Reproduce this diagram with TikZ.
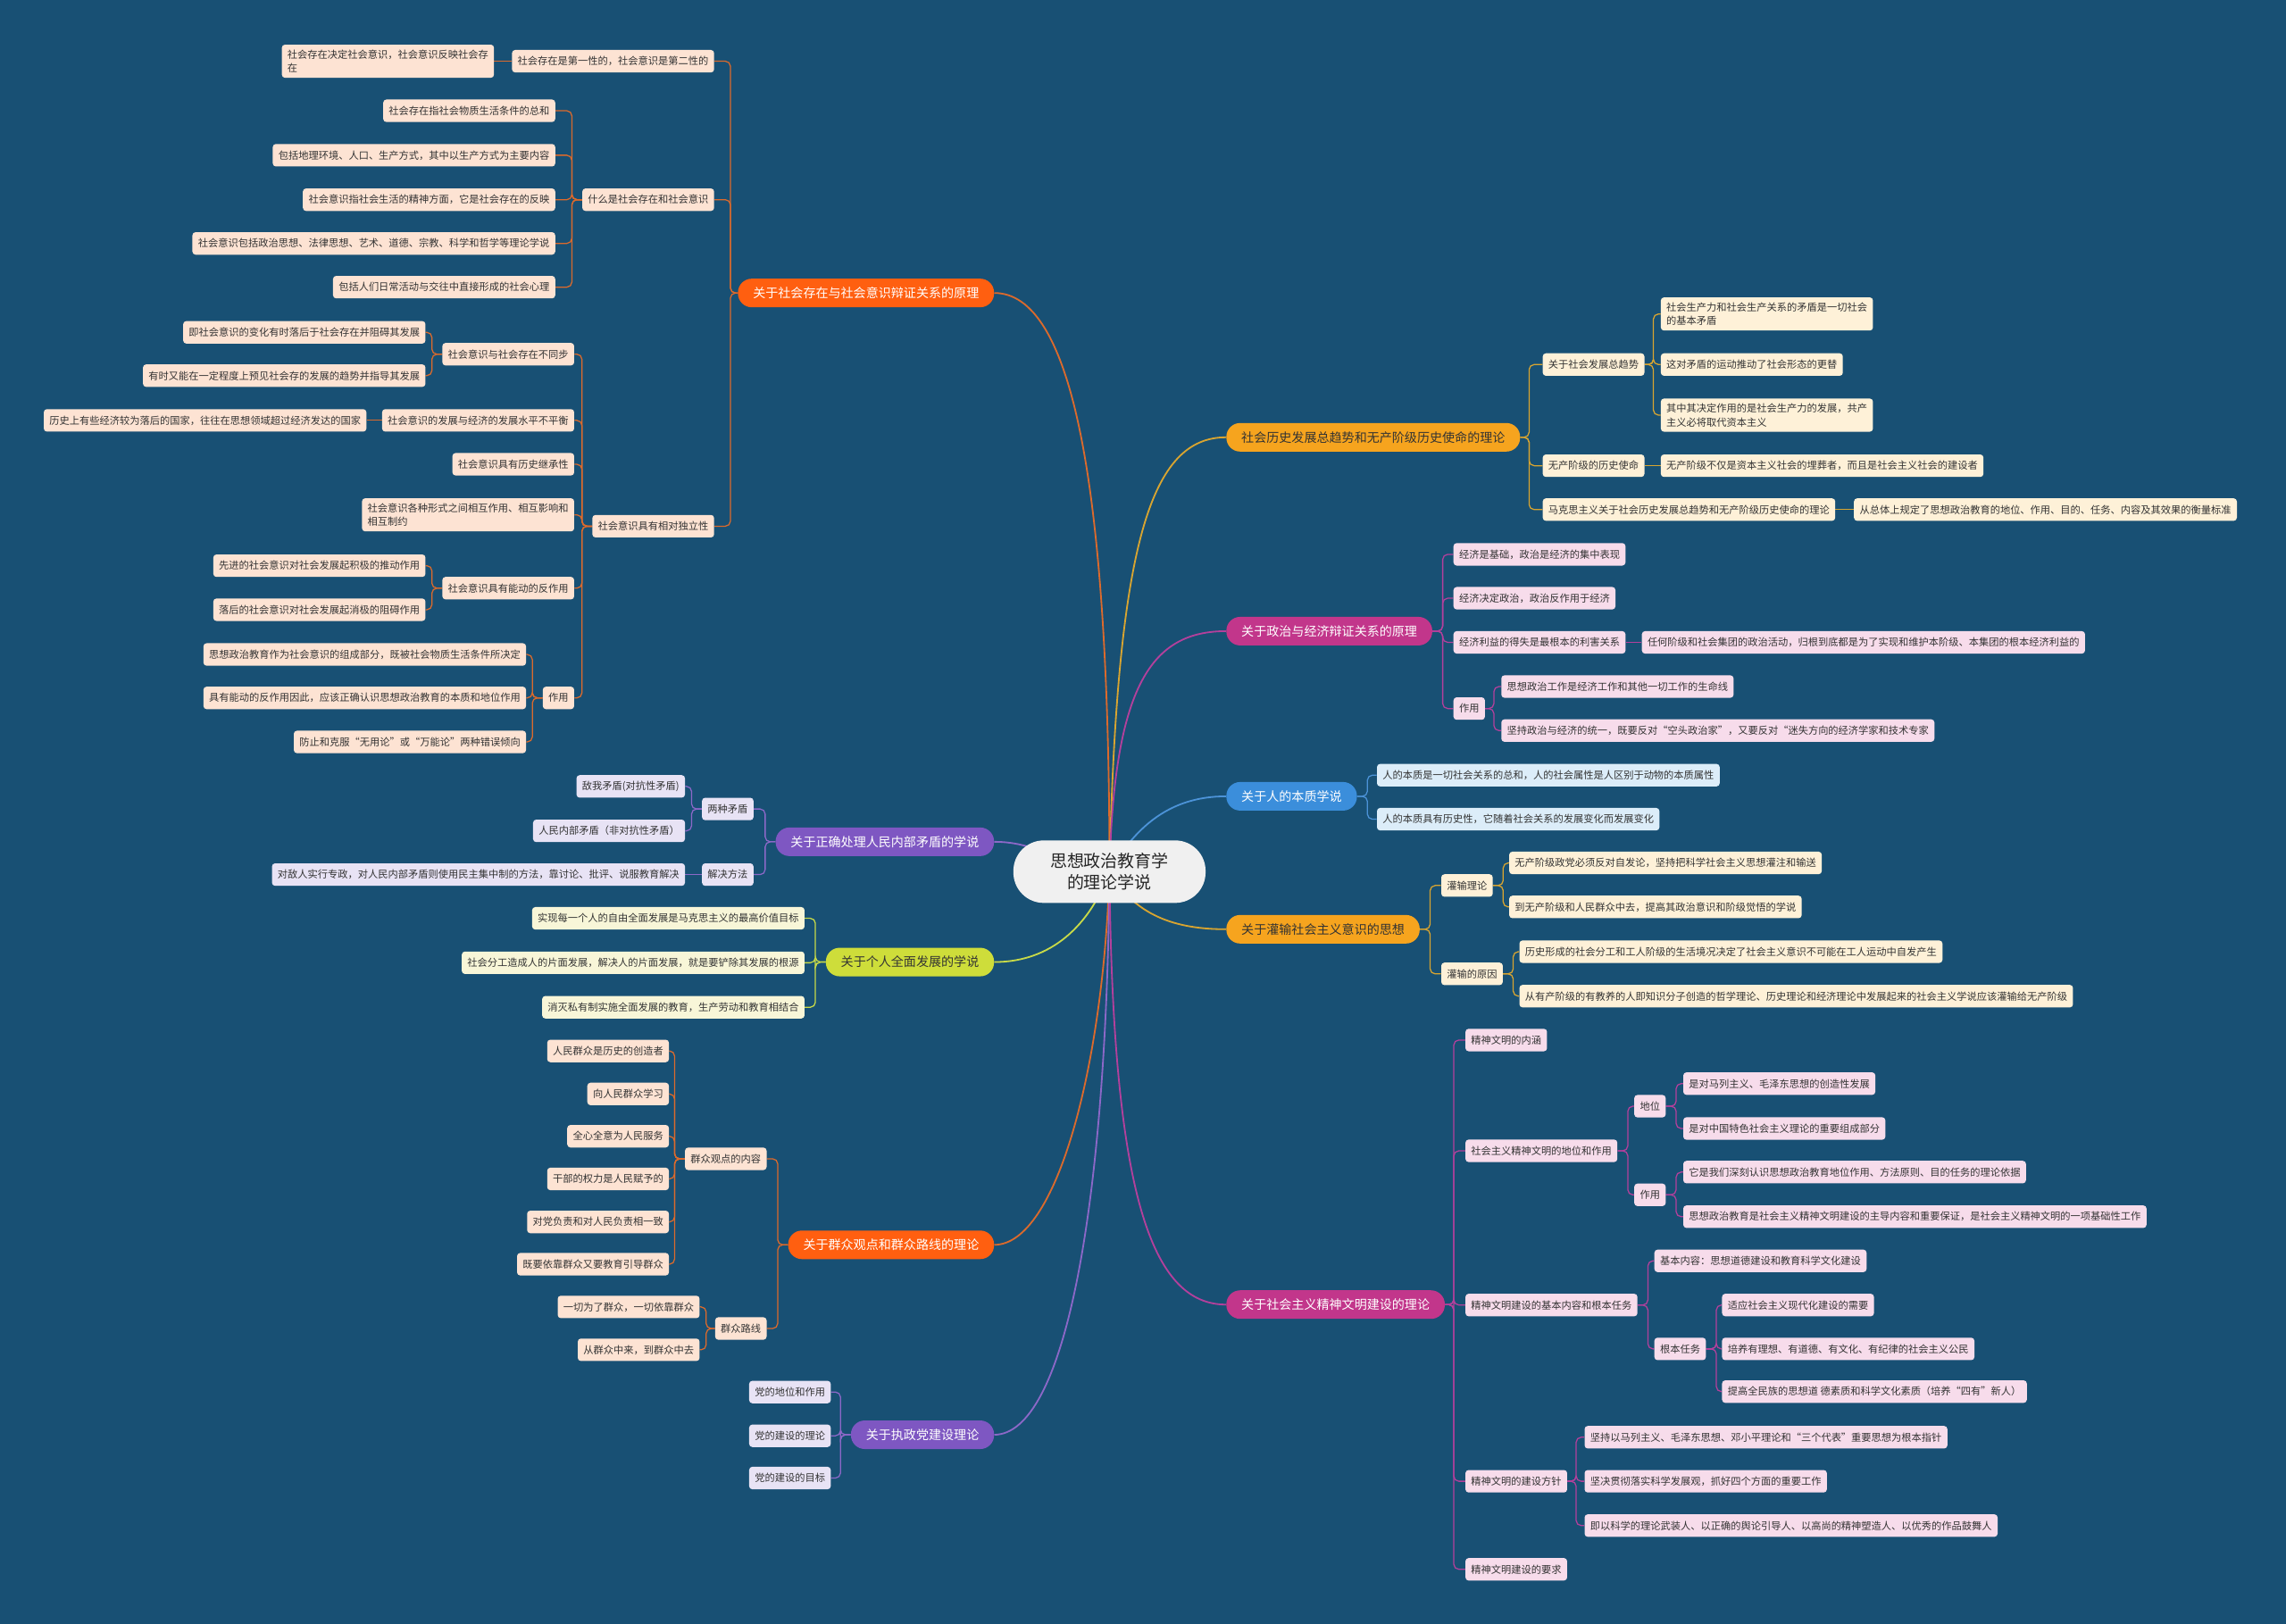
\documentclass[tikz,border=0pt]{standalone}
\usepackage{fontspec}
\setmainfont{Noto Sans CJK SC}

\definecolor{bgblue}{HTML}{185074}
\definecolor{hubfill}{HTML}{F0F0F0}
\definecolor{orgfill}{HTML}{FF5F10}
\definecolor{orgsoft}{HTML}{FDE3D3}
\definecolor{orgline}{HTML}{DC6A2C}
\definecolor{purfill}{HTML}{7E57C2}
\definecolor{pursoft}{HTML}{E8E3F5}
\definecolor{purline}{HTML}{8C68C8}
\definecolor{limfill}{HTML}{CEDD3A}
\definecolor{limsoft}{HTML}{F8F6D8}
\definecolor{limline}{HTML}{C8DA48}
\definecolor{ambfill}{HTML}{F6A41E}
\definecolor{ambsoft}{HTML}{FEF1D8}
\definecolor{ambline}{HTML}{D9A530}
\definecolor{magfill}{HTML}{C2368B}
\definecolor{magsoft}{HTML}{F7DCEB}
\definecolor{magline}{HTML}{B4409C}
\definecolor{blufill}{HTML}{3B8EDB}
\definecolor{blusoft}{HTML}{DCEDF9}
\definecolor{bluline}{HTML}{4C93D8}

\pgfdeclarelayer{back}
\pgfdeclarelayer{wires}
\pgfsetlayers{back,wires,main}

\tikzset{
  hub/.style={fill=hubfill, text=black!85, rounded corners=0.85cm, align=center,
    font=\fontsize{13.5}{17}\selectfont, minimum width=5.38cm, minimum height=1.75cm},
  topic/.style 2 args={fill=#1, text=#2, rounded corners=11pt,
    font=\fontsize{10}{12}\selectfont, inner xsep=12pt, minimum height=0.8cm},
  twig/.style={fill=#1, text=black!80, rounded corners=2.5pt, align=left,
    font=\fontsize{8}{11}\selectfont, inner xsep=4.5pt, inner ysep=4pt, minimum height=0.63cm},
  wire/.style={draw=#1, line width=0.9pt, rounded corners=4pt},
  trunk/.style={draw=#1, line width=1.3pt},
}

\begin{document}
\begin{tikzpicture}[x=0.04082cm, y=-0.04082cm]
  \begin{pgfonlayer}{back}
    \fill[bgblue] (0,0) rectangle (1568,1114);
  \end{pgfonlayer}

  \node[hub] (hub) at (761,598) {思想政治教育学\\的理论学说};

  % left: social existence and consciousness
  \node[topic={orgfill}{white}, anchor=east] (a) at (682,201) {关于社会存在与社会意识辩证关系的原理};
  \node[twig=orgsoft, anchor=east] (a1) at (490,42) {社会存在是第一性的，社会意识是第二性的};
  \node[twig=orgsoft, anchor=east] (a1a) at (339,42) {社会存在决定社会意识，社会意识反映社会存\\在};
  \node[twig=orgsoft, anchor=east] (a2) at (490,137) {什么是社会存在和社会意识};
  \node[twig=orgsoft, anchor=east] (a2a) at (381,76) {社会存在指社会物质生活条件的总和};
  \node[twig=orgsoft, anchor=east] (a2b) at (381,106.5) {包括地理环境、人口、生产方式，其中以生产方式为主要内容};
  \node[twig=orgsoft, anchor=east] (a2c) at (381,137) {社会意识指社会生活的精神方面，它是社会存在的反映};
  \node[twig=orgsoft, anchor=east] (a2d) at (381,167) {社会意识包括政治思想、法律思想、艺术、道德、宗教、科学和哲学等理论学说};
  \node[twig=orgsoft, anchor=east] (a2e) at (381,197) {包括人们日常活动与交往中直接形成的社会心理};
  \node[twig=orgsoft, anchor=east] (a3) at (490,361) {社会意识具有相对独立性};
  \node[twig=orgsoft, anchor=east] (a31) at (394,243) {社会意识与社会存在不同步};
  \node[twig=orgsoft, anchor=east] (a31a) at (292,228) {即社会意识的变化有时落后于社会存在并阻碍其发展};
  \node[twig=orgsoft, anchor=east] (a31b) at (292,257.7) {有时又能在一定程度上预见社会存的发展的趋势并指导其发展};
  \node[twig=orgsoft, anchor=east] (a32) at (394,288.4) {社会意识的发展与经济的发展水平不平衡};
  \node[twig=orgsoft, anchor=east] (a32a) at (251.5,288.4) {历史上有些经济较为落后的国家，往往在思想领域超过经济发达的国家};
  \node[twig=orgsoft, anchor=east] (a33) at (394,318.5) {社会意识具有历史继承性};
  \node[twig=orgsoft, anchor=east] (a34) at (394,353.2) {社会意识各种形式之间相互作用、相互影响和\\相互制约};
  \node[twig=orgsoft, anchor=east] (a35) at (394,403.5) {社会意识具有能动的反作用};
  \node[twig=orgsoft, anchor=east] (a35a) at (292,388.1) {先进的社会意识对社会发展起积极的推动作用};
  \node[twig=orgsoft, anchor=east] (a35b) at (292,418.3) {落后的社会意识对社会发展起消极的阻碍作用};
  \node[twig=orgsoft, anchor=east] (a36) at (394,478.8) {作用};
  \node[twig=orgsoft, anchor=east] (a36a) at (361,449) {思想政治教育作为社会意识的组成部分，既被社会物质生活条件所决定};
  \node[twig=orgsoft, anchor=east] (a36b) at (361,478.8) {具有能动的反作用因此，应该正确认识思想政治教育的本质和地位作用};
  \node[twig=orgsoft, anchor=east] (a36c) at (361,509) {防止和克服“无用论”或“万能论”两种错误倾向};

  % left: contradictions among the people
  \node[topic={purfill}{white}, anchor=east] (b) at (682,577.5) {关于正确处理人民内部矛盾的学说};
  \node[twig=pursoft, anchor=east] (b1) at (517,555) {两种矛盾};
  \node[twig=pursoft, anchor=east] (b1a) at (470,539.5) {敌我矛盾(对抗性矛盾)};
  \node[twig=pursoft, anchor=east] (b1b) at (470,570) {人民内部矛盾（非对抗性矛盾）};
  \node[twig=pursoft, anchor=east] (b2) at (517,600) {解决方法};
  \node[twig=pursoft, anchor=east] (b2a) at (470,600) {对敌人实行专政，对人民内部矛盾则使用民主集中制的方法，靠讨论、批评、说服教育解决};

  % left: all-round development
  \node[topic={limfill}{black!80}, anchor=east] (c) at (682,660) {关于个人全面发展的学说};
  \node[twig=limsoft, anchor=east] (c1) at (552,630) {实现每一个人的自由全面发展是马克思主义的最高价值目标};
  \node[twig=limsoft, anchor=east] (c2) at (552,660.5) {社会分工造成人的片面发展，解决人的片面发展，就是要铲除其发展的根源};
  \node[twig=limsoft, anchor=east] (c3) at (552,691) {消灭私有制实施全面发展的教育，生产劳动和教育相结合};

  % left: mass line
  \node[topic={orgfill}{white}, anchor=east] (d) at (682,854) {关于群众观点和群众路线的理论};
  \node[twig=orgsoft, anchor=east] (d1) at (526,795) {群众观点的内容};
  \node[twig=orgsoft, anchor=east] (d1a) at (459,721) {人民群众是历史的创造者};
  \node[twig=orgsoft, anchor=east] (d1b) at (459,750.5) {向人民群众学习};
  \node[twig=orgsoft, anchor=east] (d1c) at (459,779.5) {全心全意为人民服务};
  \node[twig=orgsoft, anchor=east] (d1d) at (459,808.8) {干部的权力是人民赋予的};
  \node[twig=orgsoft, anchor=east] (d1e) at (459,838.3) {对党负责和对人民负责相一致};
  \node[twig=orgsoft, anchor=east] (d1f) at (459,867.3) {既要依靠群众又要教育引导群众};
  \node[twig=orgsoft, anchor=east] (d2) at (526,911.4) {群众路线};
  \node[twig=orgsoft, anchor=east] (d2a) at (480,896.6) {一切为了群众，一切依靠群众};
  \node[twig=orgsoft, anchor=east] (d2b) at (480,926) {从群众中来，到群众中去};

  % left: party building
  \node[topic={purfill}{white}, anchor=east] (e) at (682,984.3) {关于执政党建设理论};
  \node[twig=pursoft, anchor=east] (e1) at (570,955) {党的地位和作用};
  \node[twig=pursoft, anchor=east] (e2) at (570,985) {党的建设的理论};
  \node[twig=pursoft, anchor=east] (e3) at (570,1014) {党的建设的目标};

  % right: historical trend
  \node[topic={ambfill}{black!80}, anchor=west] (f) at (841,300) {社会历史发展总趋势和无产阶级历史使命的理论};
  \node[twig=ambsoft, anchor=west] (f1) at (1058,250.1) {关于社会发展总趋势};
  \node[twig=ambsoft, anchor=west] (f1a) at (1139,215.4) {社会生产力和社会生产关系的矛盾是一切社会\\的基本矛盾};
  \node[twig=ambsoft, anchor=west] (f1b) at (1139,250.1) {这对矛盾的运动推动了社会形态的更替};
  \node[twig=ambsoft, anchor=west] (f1c) at (1139,284.8) {其中其决定作用的是社会生产力的发展，共产\\主义必将取代资本主义};
  \node[twig=ambsoft, anchor=west] (f2) at (1058,319.5) {无产阶级的历史使命};
  \node[twig=ambsoft, anchor=west] (f2a) at (1139,319.5) {无产阶级不仅是资本主义社会的埋葬者，而且是社会主义社会的建设者};
  \node[twig=ambsoft, anchor=west] (f3) at (1058,349.6) {马克思主义关于社会历史发展总趋势和无产阶级历史使命的理论};
  \node[twig=ambsoft, anchor=west] (f3a) at (1271.5,349.6) {从总体上规定了思想政治教育的地位、作用、目的、任务、内容及其效果的衡量标准};

  % right: politics and economy
  \node[topic={magfill}{white}, anchor=west] (g) at (841,433) {关于政治与经济辩证关系的原理};
  \node[twig=magsoft, anchor=west] (g1) at (996.8,380.3) {经济是基础，政治是经济的集中表现};
  \node[twig=magsoft, anchor=west] (g2) at (996.8,410.4) {经济决定政治，政治反作用于经济};
  \node[twig=magsoft, anchor=west] (g3) at (996.8,440.7) {经济利益的得失是最根本的利害关系};
  \node[twig=magsoft, anchor=west] (g3a) at (1126,440.7) {任何阶级和社会集团的政治活动，归根到底都是为了实现和维护本阶级、本集团的根本经济利益的};
  \node[twig=magsoft, anchor=west] (g4) at (996.8,486.1) {作用};
  \node[twig=magsoft, anchor=west] (g4a) at (1029.6,471) {思想政治工作是经济工作和其他一切工作的生命线};
  \node[twig=magsoft, anchor=west] (g4b) at (1029.6,501.2) {坚持政治与经济的统一，既要反对“空头政治家”，又要反对“迷失方向的经济学家和技术专家};

  % right: human nature
  \node[topic={blufill}{white}, anchor=west] (h) at (841,546.3) {关于人的本质学说};
  \node[twig=blusoft, anchor=west] (h1) at (944.3,531.8) {人的本质是一切社会关系的总和，人的社会属性是人区别于动物的本质属性};
  \node[twig=blusoft, anchor=west] (h2) at (944.3,562) {人的本质具有历史性，它随着社会关系的发展变化而发展变化};

  % right: indoctrination
  \node[topic={ambfill}{black!80}, anchor=west] (i) at (841,637.5) {关于灌输社会主义意识的思想};
  \node[twig=ambsoft, anchor=west] (i1) at (988.4,607.5) {灌输理论};
  \node[twig=ambsoft, anchor=west] (i1a) at (1035,592) {无产阶级政党必须反对自发论，坚持把科学社会主义思想灌注和输送};
  \node[twig=ambsoft, anchor=west] (i1b) at (1035,622.2) {到无产阶级和人民群众中去，提高其政治意识和阶级觉悟的学说};
  \node[twig=ambsoft, anchor=west] (i2) at (988.4,668.1) {灌输的原因};
  \node[twig=ambsoft, anchor=west] (i2a) at (1042,652.9) {历史形成的社会分工和工人阶级的生活境况决定了社会主义意识不可能在工人运动中自发产生};
  \node[twig=ambsoft, anchor=west] (i2b) at (1042,683.4) {从有产阶级的有教养的人即知识分子创造的哲学理论、历史理论和经济理论中发展起来的社会主义学说应该灌输给无产阶级};

  % right: spiritual civilization
  \node[topic={magfill}{white}, anchor=west] (j) at (841,895) {关于社会主义精神文明建设的理论};
  \node[twig=magsoft, anchor=west] (j1) at (1005,713.5) {精神文明的内涵};
  \node[twig=magsoft, anchor=west] (j2) at (1005,789.5) {社会主义精神文明的地位和作用};
  \node[twig=magsoft, anchor=west] (j21) at (1120.8,758.9) {地位};
  \node[twig=magsoft, anchor=west] (j21a) at (1154.4,743.4) {是对马列主义、毛泽东思想的创造性发展};
  \node[twig=magsoft, anchor=west] (j21b) at (1154.4,774.2) {是对中国特色社会主义理论的重要组成部分};
  \node[twig=magsoft, anchor=west] (j22) at (1120.8,819.7) {作用};
  \node[twig=magsoft, anchor=west] (j22a) at (1154.4,804.1) {它是我们深刻认识思想政治教育地位作用、方法原则、目的任务的理论依据};
  \node[twig=magsoft, anchor=west] (j22b) at (1154.4,834.7) {思想政治教育是社会主义精神文明建设的主导内容和重要保证，是社会主义精神文明的一项基础性工作};
  \node[twig=magsoft, anchor=west] (j3) at (1005,895.3) {精神文明建设的基本内容和根本任务};
  \node[twig=magsoft, anchor=west] (j31) at (1134.6,865) {基本内容：思想道德建设和教育科学文化建设};
  \node[twig=magsoft, anchor=west] (j32) at (1134.6,925.4) {根本任务};
  \node[twig=magsoft, anchor=west] (j32a) at (1181,895.3) {适应社会主义现代化建设的需要};
  \node[twig=magsoft, anchor=west] (j32b) at (1181,925.4) {培养有理想、有道德、有文化、有纪律的社会主义公民};
  \node[twig=magsoft, anchor=west] (j32c) at (1181,954.7) {提高全民族的思想道 德素质和科学文化素质（培养“四有”新人）};
  \node[twig=magsoft, anchor=west] (j4) at (1005,1016.2) {精神文明的建设方针};
  \node[twig=magsoft, anchor=west] (j4a) at (1086.7,986) {坚持以马列主义、毛泽东思想、邓小平理论和“三个代表”重要思想为根本指针};
  \node[twig=magsoft, anchor=west] (j4b) at (1086.7,1016.2) {坚决贯彻落实科学发展观，抓好四个方面的重要工作};
  \node[twig=magsoft, anchor=west] (j4c) at (1086.7,1046.6) {即以科学的理论武装人、以正确的舆论引导人、以高尚的精神塑造人、以优秀的作品鼓舞人};
  \node[twig=magsoft, anchor=west] (j5) at (1005,1076.6) {精神文明建设的要求};

  \begin{pgfonlayer}{wires}
    % trunks from the centre
    \draw[trunk=orgline] (hub.center) .. controls (761,330) and (735,201) .. (a.east);
    \draw[trunk=purline] (hub.center) to[out=175,in=0] (b.east);
    \draw[trunk=limline] (hub.center) to[out=-110,in=0] (c.east);
    \draw[trunk=orgline] (hub.center) .. controls (757,730) and (725,854) .. (d.east);
    \draw[trunk=purline] (hub.center) .. controls (759,830) and (730,984) .. (e.east);
    \draw[trunk=ambline] (hub.center) .. controls (766,370) and (790,300) .. (f.west);
    \draw[trunk=magline] (hub.center) .. controls (764,470) and (790,433) .. (g.west);
    \draw[trunk=bluline] (hub.center) to[out=60,in=180] (h.west);
    \draw[trunk=ambline] (hub.center) to[out=-60,in=180] (i.west);
    \draw[trunk=magline] (hub.center) .. controls (763,820) and (790,895) .. (j.west);
    % left branches
    \foreach \k in {a1,a2,a3} \draw[wire=orgline] (a.west) -- ++(-5,0) |- (\k.east);
    \draw[wire=orgline] (a1.west) -- (a1a.east);
    \foreach \k in {a2a,a2b,a2c,a2d,a2e} \draw[wire=orgline] (a2.west) -- ++(-7,0) |- (\k.east);
    \foreach \k in {a31,a32,a33,a34,a35,a36} \draw[wire=orgline] (a3.west) -- ++(-7,0) |- (\k.east);
    \foreach \k in {a31a,a31b} \draw[wire=orgline] (a31.west) -- ++(-7,0) |- (\k.east);
    \draw[wire=orgline] (a32.west) -- (a32a.east);
    \foreach \k in {a35a,a35b} \draw[wire=orgline] (a35.west) -- ++(-7,0) |- (\k.east);
    \foreach \k in {a36a,a36b,a36c} \draw[wire=orgline] (a36.west) -- ++(-7,0) |- (\k.east);
    \foreach \k in {b1,b2} \draw[wire=purline] (b.west) -- ++(-7,0) |- (\k.east);
    \foreach \k in {b1a,b1b} \draw[wire=purline] (b1.west) -- ++(-7,0) |- (\k.east);
    \draw[wire=purline] (b2.west) -- (b2a.east);
    \foreach \k in {c1,c2,c3} \draw[wire=limline] (c.west) -- ++(-7,0) |- (\k.east);
    \foreach \k in {d1,d2} \draw[wire=orgline] (d.west) -- ++(-7,0) |- (\k.east);
    \foreach \k in {d1a,d1b,d1c,d1d,d1e,d1f} \draw[wire=orgline] (d1.west) -- ++(-7,0) |- (\k.east);
    \foreach \k in {d2a,d2b} \draw[wire=orgline] (d2.west) -- ++(-6,0) |- (\k.east);
    \foreach \k in {e1,e2,e3} \draw[wire=purline] (e.west) -- ++(-7,0) |- (\k.east);
    % right branches
    \foreach \k in {f1,f2,f3} \draw[wire=ambline] (f.east) -- ++(6,0) |- (\k.west);
    \foreach \k in {f1a,f1b,f1c} \draw[wire=ambline] (f1.east) -- ++(6,0) |- (\k.west);
    \draw[wire=ambline] (f2.east) -- (f2a.west);
    \draw[wire=ambline] (f3.east) -- (f3a.west);
    \foreach \k in {g1,g2,g3,g4} \draw[wire=magline] (g.east) -- ++(7,0) |- (\k.west);
    \draw[wire=magline] (g3.east) -- (g3a.west);
    \foreach \k in {g4a,g4b} \draw[wire=magline] (g4.east) -- ++(6,0) |- (\k.west);
    \foreach \k in {h1,h2} \draw[wire=bluline] (h.east) -- ++(7,0) |- (\k.west);
    \foreach \k in {i1,i2} \draw[wire=ambline] (i.east) -- ++(7,0) |- (\k.west);
    \foreach \k in {i1a,i1b} \draw[wire=ambline] (i1.east) -- ++(7,0) |- (\k.west);
    \foreach \k in {i2a,i2b} \draw[wire=ambline] (i2.east) -- ++(7,0) |- (\k.west);
    \foreach \k in {j1,j2,j3,j4,j5} \draw[wire=magline] (j.east) -- ++(6,0) |- (\k.west);
    \foreach \k in {j21,j22} \draw[wire=magline] (j2.east) -- ++(7,0) |- (\k.west);
    \foreach \k in {j21a,j21b} \draw[wire=magline] (j21.east) -- ++(7,0) |- (\k.west);
    \foreach \k in {j22a,j22b} \draw[wire=magline] (j22.east) -- ++(7,0) |- (\k.west);
    \foreach \k in {j31,j32} \draw[wire=magline] (j3.east) -- ++(7,0) |- (\k.west);
    \foreach \k in {j32a,j32b,j32c} \draw[wire=magline] (j32.east) -- ++(7,0) |- (\k.west);
    \foreach \k in {j4a,j4b,j4c} \draw[wire=magline] (j4.east) -- ++(6,0) |- (\k.west);
  \end{pgfonlayer}
\end{tikzpicture}
\end{document}
